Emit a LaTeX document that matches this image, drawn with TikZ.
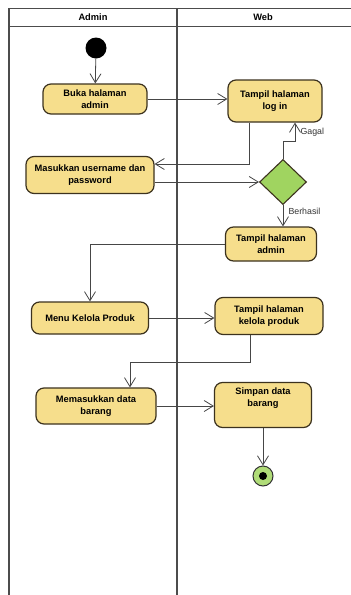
\documentclass[tikz,border=0pt]{standalone}
\usepackage{fontspec}
\setmainfont{Liberation Sans}
\usetikzlibrary{arrows.meta,shapes.geometric,calc}
\definecolor{actfill}{RGB}{246,222,140}
\definecolor{actline}{RGB}{60,50,30}
\definecolor{decfill}{RGB}{160,212,96}
\definecolor{endfill}{RGB}{176,220,120}
\definecolor{flowline}{RGB}{70,70,70}
\tikzset{
  activity/.style={draw=actline, line width=1.2pt, fill=actfill, rounded corners=8pt,
    align=center, inner sep=2pt, font=\fontsize{9.3}{11.5}\selectfont\bfseries},
  decision/.style={diamond, draw=actline, line width=1.1pt, fill=decfill, inner sep=0pt},
  flow/.style={draw=flowline, line width=0.8pt, -{Straight Barb[length=9pt,width=11pt]}},
  lane/.style={draw=black!70, line width=1.2pt},
  lanehead/.style={font=\fontsize{9.3}{10}\selectfont\bfseries},
  guard/.style={font=\fontsize{8.8}{10}\selectfont, text=black!80}
}
\begin{document}
\begin{tikzpicture}[x=1pt,y=-1pt]
\useasboundingbox (0,0) rectangle (351,595);
\fill[white] (0,0) rectangle (351,595);

% swimlanes
\draw[lane] (360,8.5) -- (9,8.5) -- (9,600);
\draw[lane] (9,26.5) -- (360,26.5);
\draw[lane] (177,8.5) -- (177,600);
\node[lanehead] (hadmin) at (93,17.5) {Admin};
\node[lanehead] (hweb) at (263,17.5) {Web};

% start and end
\node[circle, fill=black, minimum size=21pt, inner sep=0pt] (start) at (96,48) {};
\node[circle, draw=black!80, line width=1pt, fill=endfill, minimum size=20pt, inner sep=0pt] (end) at (263,476) {};
\node[circle, fill=black, minimum size=8pt, inner sep=0pt] (endin) at (end.center) {};

% activities
\node[activity, minimum width=104pt, minimum height=30pt] (buka) at (95,99) {Buka halaman\\admin};
\node[activity, minimum width=94pt, minimum height=42pt] (login) at (275,101) {Tampil halaman\\log in};
\node[activity, minimum width=128pt, minimum height=37pt] (masuk) at (90,175) {Masukkan username dan\\password};
\node[decision, minimum width=47pt, minimum height=45pt] (dec) at (283,182) {};
\node[activity, minimum width=91pt, minimum height=34pt] (tadmin) at (271,244) {Tampil halaman\\admin};
\node[activity, minimum width=117pt, minimum height=32pt] (menu) at (90,318) {Menu Kelola Produk};
\node[activity, minimum width=108pt, minimum height=37pt] (tkelola) at (269,316) {Tampil halaman\\kelola produk};
\node[activity, minimum width=120pt, minimum height=36pt] (memasuk) at (96,406) {Memasukkan data\\barang};
\node[activity, minimum width=97pt, minimum height=45pt] (simpan) at (263,405) {Simpan data\\barang\\[4pt]};

% control flow
\draw[flow] (start) -- (buka);
\draw[flow] (buka.east) -- (buka.east -| login.west);
\draw[flow] ($(login.south)+(-26,0)$) |- ($(masuk.east)+(0,-11)$);
\draw[flow] (dec.west -| masuk.east) -- (dec.west);
\draw[flow] (dec.north) -- ++(0,-18) -| ($(login.south)+(20,0)$);
\node[guard, anchor=west] (gagal) at (297,132) {Gagal};
\draw[flow] (dec.south) -- (dec.south |- tadmin.north);
\node[guard, anchor=west] (berhasil) at (285,211) {Berhasil};
\draw[flow] (tadmin.west) -| (menu.north);
\draw[flow] (menu.east) -- (menu.east -| tkelola.west);
\draw[flow] ($(tkelola.south)+(-19,0)$) -- ++(0,27) -| ($(memasuk.north)+(34,0)$);
\draw[flow] (memasuk.east) -- (memasuk.east -| simpan.west);
\draw[flow] (simpan.south) -- (end.north);
\end{tikzpicture}
\end{document}
